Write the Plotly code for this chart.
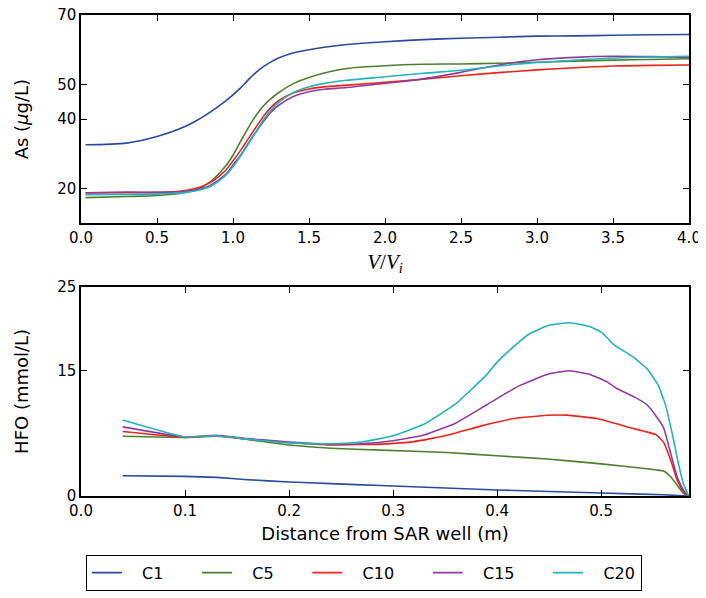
import plotly.graph_objects as go

# ---------------- data: top panel (As vs V/Vi) ----------------
top_x = [0.03, 0.3, 0.5, 0.65, 0.75, 0.85, 0.95, 1.0, 1.05, 1.1, 1.15, 1.2, 1.25, 1.3,
         1.4, 1.5, 1.6, 1.75, 2.0, 2.25, 2.5, 2.75, 3.0, 3.25, 3.5, 3.75, 4.0]
as_c1 = [32.6, 33.1, 35.0, 37.2, 39.3, 42.0, 45.2, 47.0, 49.0, 51.3, 53.4, 55.1, 56.5, 57.6,
         59.1, 60.0, 60.7, 61.5, 62.3, 62.9, 63.3, 63.6, 63.9, 64.0, 64.15, 64.3, 64.4]
as_c5 = [17.4, 17.7, 18.0, 18.6, 19.5, 21.9, 26.4, 29.6, 33.6, 37.5, 41.0, 43.8, 45.9, 47.6,
         50.3, 52.0, 53.3, 54.6, 55.4, 55.8, 55.9, 56.1, 56.4, 56.7, 57.0, 57.2, 57.4]
as_c10 = [18.7, 18.8, 18.9, 19.2, 20.0, 21.7, 25.2, 28.0, 31.0, 34.3, 37.6, 40.8, 43.4, 45.3,
          47.6, 48.7, 49.3, 49.8, 50.6, 51.5, 52.5, 53.4, 54.2, 54.8, 55.3, 55.5, 55.6]
as_c15 = [18.8, 19.0, 18.9, 19.1, 19.6, 20.9, 24.0, 26.8, 29.6, 33.0, 36.2, 39.3, 42.0, 44.0,
          46.6, 47.9, 48.6, 49.1, 50.3, 51.6, 53.5, 55.6, 57.1, 57.8, 58.1, 58.0, 57.8]
as_c20 = [18.2, 18.3, 18.4, 18.7, 19.3, 20.6, 23.7, 26.3, 29.4, 32.8, 36.3, 39.8, 42.6, 44.8,
          47.7, 49.3, 50.3, 51.2, 52.2, 53.2, 54.1, 55.3, 56.3, 57.0, 57.6, 57.9, 58.1]

# ---------------- data: bottom panel (HFO vs distance) ----------------
d_c1 = [0.04, 0.1, 0.13, 0.16, 0.2, 0.24, 0.288, 0.4, 0.5, 0.56, 0.584]
hfo_c1 = [2.42, 2.34, 2.22, 1.95, 1.68, 1.48, 1.25, 0.72, 0.35, 0.14, 0.0]

d_c5 = [0.04, 0.1, 0.13, 0.16, 0.2, 0.24, 0.288, 0.352, 0.4, 0.448, 0.5, 0.544, 0.56,
        0.567, 0.573, 0.579, 0.584]
hfo_c5 = [7.13, 7.0, 7.13, 6.75, 6.1, 5.7, 5.48, 5.2, 4.8, 4.43, 3.84, 3.25, 2.98,
          2.27, 1.3, 0.3, 0.0]

d_c10 = [0.04, 0.1, 0.13, 0.16, 0.2, 0.24, 0.27, 0.288, 0.32, 0.352, 0.384, 0.416, 0.448,
         0.467, 0.496, 0.528, 0.553, 0.56, 0.567, 0.573, 0.579, 0.584]
hfo_c10 = [7.7, 7.0, 7.2, 6.8, 6.4, 6.1, 6.15, 6.2, 6.5, 7.25, 8.35, 9.25, 9.64,
           9.66, 9.25, 8.15, 7.3, 6.4, 4.2, 1.9, 0.5, 0.0]

d_c15 = [0.04, 0.1, 0.13, 0.16, 0.2, 0.24, 0.27, 0.3, 0.33, 0.36, 0.39, 0.42, 0.45, 0.47,
         0.49, 0.506, 0.515, 0.534, 0.544, 0.553, 0.56, 0.567, 0.573, 0.579, 0.584]
hfo_c15 = [8.26, 7.05, 7.25, 6.85, 6.45, 6.2, 6.25, 6.6, 7.3, 8.7, 10.9, 13.1, 14.6, 14.96,
           14.5, 13.6, 12.85, 11.7, 10.9, 9.5, 8.15, 5.0, 2.3, 0.7, 0.0]

d_c20 = [0.04, 0.1, 0.13, 0.16, 0.2, 0.24, 0.27, 0.3, 0.33, 0.36, 0.39, 0.4, 0.42, 0.43,
         0.44, 0.45, 0.47, 0.49, 0.501, 0.512, 0.531, 0.544, 0.555, 0.562, 0.568, 0.574,
         0.579, 0.584]
hfo_c20 = [9.08, 7.05, 7.2, 6.8, 6.35, 6.25, 6.45, 7.2, 8.6, 11.0, 14.5, 16.0, 18.3, 19.3,
           19.9, 20.4, 20.7, 20.2, 19.5, 18.1, 16.6, 15.2, 13.2, 10.8, 7.6, 4.0, 1.5, 0.0]

names = ["C1", "C5", "C10", "C15", "C20"]
colors = ["#2a4a9e", "#4f7f31", "#e8261f", "#8f3c98", "#23b4b8"]

top_series = [as_c1, as_c5, as_c10, as_c15, as_c20]
bottom_series = [(d_c1, hfo_c1), (d_c5, hfo_c5), (d_c10, hfo_c10), (d_c15, hfo_c15), (d_c20, hfo_c20)]

NB = "\u00a0"
TS = "\u2009"
fig = go.Figure()
for name, col, ys in zip(names, colors, top_series):
    fig.add_trace(go.Scatter(x=top_x, y=ys, mode="lines", name=name, showlegend=False,
                             line=dict(color=col, width=1.6, shape="spline", smoothing=0.8),
                             xaxis="x", yaxis="y"))
for i, (name, col, (xs, ys)) in enumerate(zip(names, colors, bottom_series)):
    label = NB * 3 + name + (NB * 5 + TS if i < len(names) - 1 else "")
    fig.add_trace(go.Scatter(x=xs, y=ys, mode="lines", name=label, showlegend=True,
                             line=dict(color=col, width=1.6, shape="spline", smoothing=0.4),
                             xaxis="x2", yaxis="y2"))

font_main = "DejaVu Sans"
tick_font = dict(family=font_main, size=15, color="black")
axis_common = dict(showgrid=False, zeroline=False, showline=True, linecolor="black",
                   linewidth=1.5, mirror="ticks", ticks="inside", ticklen=6,
                   tickwidth=1, tickcolor="black", tickfont=tick_font, automargin=False,
                   ticklabeloverflow="allow")

fig.update_layout(
    width=698, height=590,
    margin=dict(l=73, r=17, t=7, b=91),
    paper_bgcolor="white", plot_bgcolor="white",
    font=dict(family=font_main, size=15, color="black"),
    xaxis=dict(domain=[0, 1], range=[0, 4.0], tickvals=[0, 0.5, 1, 1.5, 2, 2.5, 3, 3.5, 4],
               tickformat=".1f", anchor="y",
               title=dict(text="<i>V</i>/<i>V<sub>i</sub></i>",
                          font=dict(family="Liberation Serif", size=21), standoff=8),
               **axis_common),
    yaxis=dict(domain=[0.567, 1], range=[10, 70], tickvals=[20, 40, 50, 70], anchor="x",
               title=dict(text="As (<i>μ</i>g/L)", font=dict(family=font_main, size=18),
                          standoff=24),
               **axis_common),
    xaxis2=dict(domain=[0, 1], range=[0, 0.5844], tickvals=[0, 0.1, 0.2, 0.3, 0.4, 0.5],
                tickformat=".1f", anchor="y2",
                title=dict(text="Distance from SAR well (m)", font=dict(family=font_main, size=18),
                           standoff=9),
                **axis_common),
    yaxis2=dict(domain=[0, 0.435], range=[0, 25], tickvals=[0, 15, 25], anchor="x2",
                title=dict(text="HFO (mmol/L)", font=dict(family=font_main, size=18),
                           standoff=24),
                **axis_common),
    legend=dict(orientation="h", x=0.008, xanchor="left", y=-0.122, yanchor="top",
                bordercolor="black", borderwidth=1, bgcolor="white",
                font=dict(family=font_main, size=16, color="black"),
                traceorder="normal"),
)

fig.write_html("out.html")
